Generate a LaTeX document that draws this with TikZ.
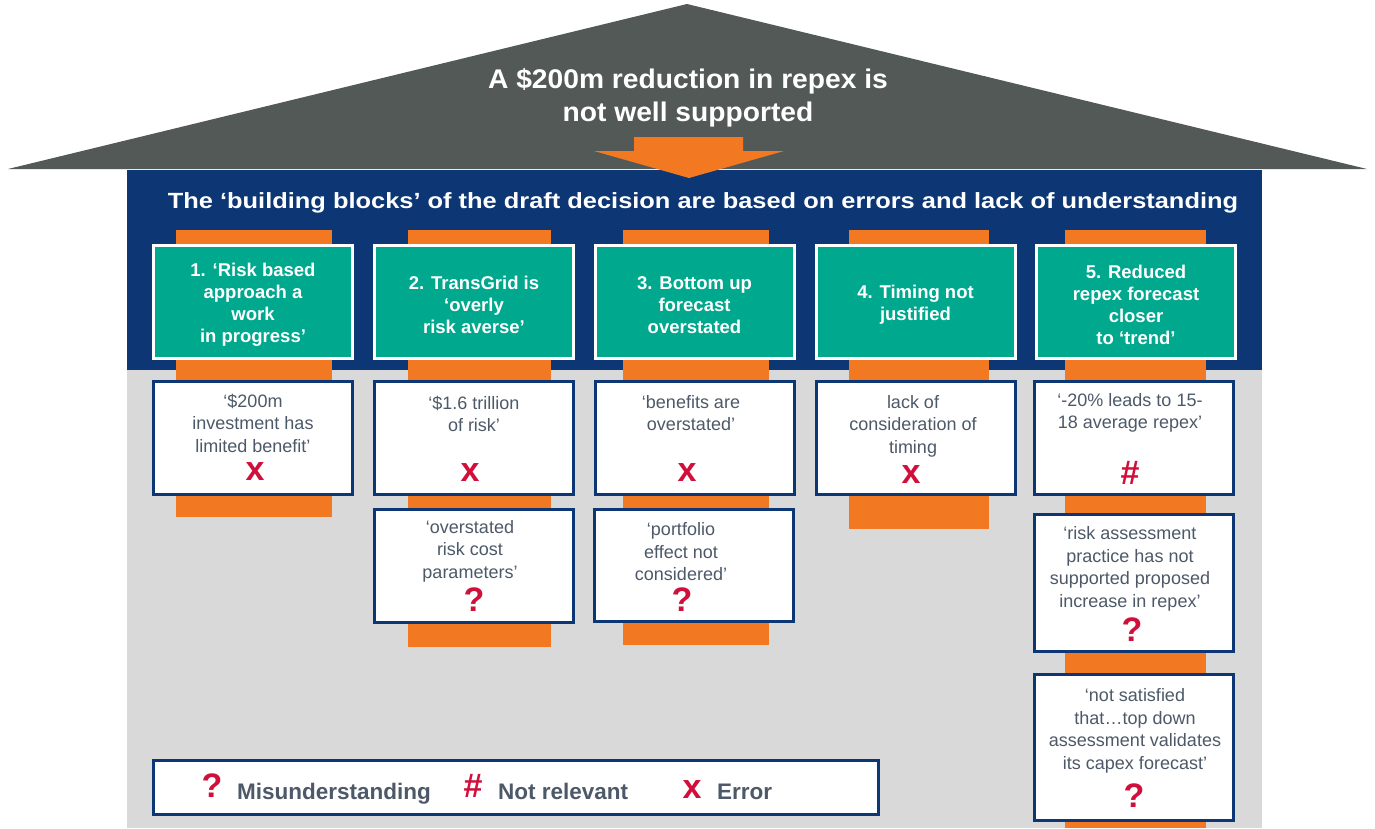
\documentclass[tikz,border=0pt]{standalone}
\usepackage{graphicx}
\usepackage{fontspec}
\setmainfont{Liberation Sans}
\definecolor{roofgray}{RGB}{82,89,87}
\definecolor{navy}{RGB}{12,54,116}
\definecolor{tealc}{RGB}{0,168,142}
\definecolor{orangec}{RGB}{242,121,34}
\definecolor{wallgray}{RGB}{217,217,217}
\definecolor{markred}{RGB}{208,16,58}
\definecolor{slate}{RGB}{77,89,104}
\tikzset{
  headbox/.style={fill=tealc, draw=white, line width=3pt, inner sep=0pt, minimum width=199pt, minimum height=113pt},
  headtext/.style={text=white, align=center, inner sep=0pt, font=\fontsize{18.5}{22}\selectfont\bfseries},
  notebox/.style={fill=white, draw=navy, line width=3pt, inner sep=0pt, minimum width=199pt},
  quote/.style={text=slate, align=center, inner sep=0pt, font=\fontsize{18}{22.5}\selectfont},
  verdict/.style={text=markred, inner sep=0pt, font=\fontsize{34}{34}\selectfont\bfseries},
  keytext/.style={text=slate, inner sep=0pt, font=\fontsize{22.5}{26}\selectfont\bfseries},
  stripe/.style={fill=orangec},
}
\begin{document}
\begin{tikzpicture}[x=1pt,y=-1pt]
\useasboundingbox (0,0) rectangle (1375,828);

% roof
\fill[roofgray] (8,169) -- (687,4) -- (1367,169) -- cycle;
\node[text=white, align=center, inner sep=0pt, font=\fontsize{27}{33}\selectfont\bfseries] (roof) at (688,98)
  {\scalebox{1.045}[1]{A \$200m reduction in repex is}\\\scalebox{1.045}[1]{not well supported}};

% walls
\fill[navy] (127,170) rectangle (1262,370);
\fill[wallgray] (127,370) rectangle (1262,828);

% downward arrow from the roof
\fill[orangec] (634,137) -- (743,137) -- (743,151) -- (784,151) -- (689,178) -- (594,151) -- (634,151) -- cycle;

\node[text=white, inner sep=0pt, font=\fontsize{22}{26}\selectfont\bfseries] (title) at (703,203)
  {\scalebox{1.155}[1]{The ‘building blocks’ of the draft decision are based on errors and lack of understanding}};

% pillars
\fill[stripe] (176,230) rectangle (332,517);
\fill[stripe] (408,230) rectangle (551,647);
\fill[stripe] (623,230) rectangle (769,645);
\fill[stripe] (849,230) rectangle (989,529);
\fill[stripe] (1065,230) rectangle (1206,828);

% building blocks
\node[headbox] (h1) at (253,302) {};
\node[headbox] (h2) at (474,302) {};
\node[headbox] (h3) at (694.5,302) {};
\node[headbox] (h4) at (915.5,302) {};
\node[headbox] (h5) at (1136,302) {};
\node[headtext] (t1) at (253,305) {1. ‘Risk based\\approach a\\work\\in progress’};
\node[headtext] (t2) at (474,305) {2. TransGrid is\\‘overly\\risk averse’};
\node[headtext] (t3) at (694.5,305) {3. Bottom up\\forecast\\overstated};
\node[headtext] (t4) at (915.5,305) {4. Timing not\\justified};
\node[headtext] (t5) at (1136,305) {5. Reduced\\repex forecast\\closer\\to ‘trend’};

% findings, first row
\node[notebox, minimum height=113pt] (q1a) at (253,438) {};
\node[notebox, minimum height=113pt] (q2a) at (474,438) {};
\node[notebox, minimum height=113pt] (q3a) at (694.5,438) {};
\node[notebox, minimum height=113pt] (q4a) at (915.5,438) {};
\node[notebox, minimum height=113pt] (q5a) at (1134,438) {};
\node[quote] (c1a) at (253,423) {‘\$200m\\investment has\\limited benefit’};
\node[verdict] (v1a) at (255,472) {x};
\node[quote] (c2a) at (474,414) {‘\$1.6 trillion\\of risk’};
\node[verdict] (v2a) at (470,473) {x};
\node[quote] (c3a) at (691,413) {‘benefits are\\overstated’};
\node[verdict] (v3a) at (687,473) {x};
\node[quote] (c4a) at (913,426) {lack of\\consideration of\\timing};
\node[verdict] (v4a) at (911,475) {x};
\node[quote] (c5a) at (1130,413) {‘-20\% leads to 15-\\18 average repex’};
\node[verdict] (v5a) at (1130,473) {\#};

% findings, second row
\node[notebox, minimum height=113pt] (q2b) at (474,566) {};
\node[notebox, minimum height=112pt] (q3b) at (693.5,565.5) {};
\node[notebox, minimum height=137pt] (q5b) at (1134,583) {};
\node[quote] (c2b) at (470,551) {‘overstated\\risk cost\\parameters’};
\node[verdict] (v2b) at (474,600) {?};
\node[quote] (c3b) at (681,552) {‘portfolio\\effect not\\considered’};
\node[verdict] (v3b) at (682,600) {?};
\node[quote] (c5b) at (1130,569) {‘risk assessment\\practice has not\\supported proposed\\increase in repex’};
\node[verdict] (v5b) at (1132,630) {?};

% findings, third row
\node[notebox, minimum height=146pt] (q5c) at (1134,747.5) {};
\node[quote] (c5c) at (1135,731) {‘not satisfied\\that…top down\\assessment validates\\its capex forecast’};
\node[verdict] (v5c) at (1134,796) {?};

% key
\node[notebox, minimum width=725pt, minimum height=54pt] (key) at (516,787.5) {};
\node[verdict] (k1) at (212,786) {?};
\node[keytext, anchor=base west] (k1t) at (237,799) {Misunderstanding};
\node[verdict] (k2) at (473,786) {\#};
\node[keytext, anchor=base west] (k2t) at (498,799) {Not relevant};
\node[verdict] (k3) at (692,790) {x};
\node[keytext, anchor=base west] (k3t) at (717,799) {Error};
\end{tikzpicture}
\end{document}
